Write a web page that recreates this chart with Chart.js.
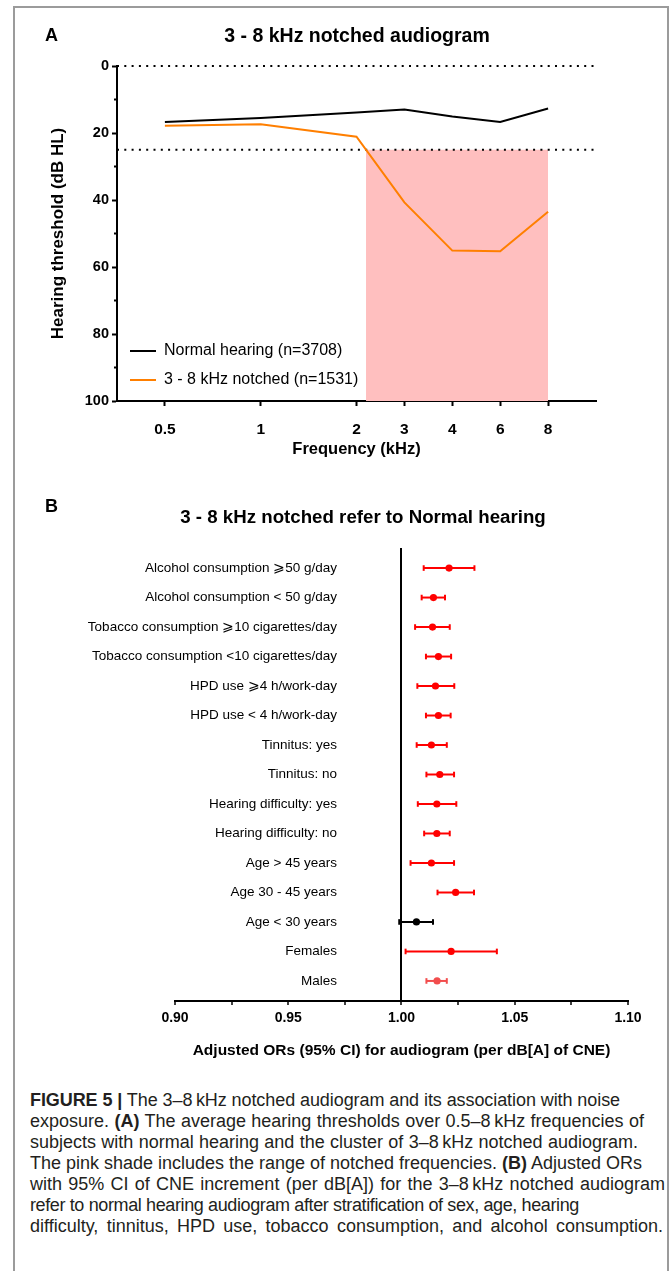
<!DOCTYPE html>
<html><head><meta charset="utf-8">
<script src="https://cdn.jsdelivr.net/npm/chart.js@4.4.1/dist/chart.umd.min.js"></script>
<style>
html,body{margin:0;padding:0;background:#fff;}
body{width:672px;height:1271px;position:relative;overflow:hidden;font-family:'Liberation Sans',Arial,sans-serif;color:#000;}
#frame{position:absolute;left:13px;top:6px;width:652px;height:1320px;border:2px solid #9b9b9b;}
canvas{position:absolute;left:0;}
.lbl{position:absolute;font-weight:bold;white-space:nowrap;}
#caption{position:absolute;left:30px;top:1090px;font-size:18px;line-height:21px;color:#231f20;white-space:nowrap;}
#caption b{font-weight:bold;}
</style></head>
<body>
<div id="frame"></div>
<canvas id="chartA" width="672" height="470" style="top:0"></canvas>
<canvas id="chartB" width="672" height="600" style="top:470px"></canvas>
<div class="lbl" style="left:45px;top:25px;font-size:18px;line-height:20px">A</div>
<div class="lbl" style="left:357px;top:23px;font-size:19.5px;line-height:24px;transform:translateX(-50%)">3 - 8 kHz notched audiogram</div>
<div class="lbl" style="left:45px;top:496px;font-size:18px;line-height:20px">B</div>
<div class="lbl" style="left:363px;top:505px;font-size:18.7px;line-height:24px;transform:translateX(-50%)">3 - 8 kHz notched refer to Normal hearing</div>
<div id="caption">
<div><b>FIGURE 5 |</b> The 3–8&thinsp;kHz notched audiogram and its association with noise</div>
<div>exposure. <b>(A)</b> The average hearing thresholds over 0.5–8&thinsp;kHz frequencies of</div>
<div>subjects with normal hearing and the cluster of 3–8&thinsp;kHz notched audiogram.</div>
<div>The pink shade includes the range of notched frequencies. <b>(B)</b> Adjusted ORs</div>
<div>with 95% CI of CNE increment (per dB[A]) for the 3–8&thinsp;kHz notched audiogram</div>
<div>refer to normal hearing audiogram after stratification of sex, age, hearing</div>
<div>difficulty, tinnitus, HPD use, tobacco consumption, and alcohol consumption.</div>
</div>
<script>
// ---------- Panel A data ----------
const freqLabels = ['0.5','1','2','3','4','6','8'];
const freqPositions = [0,2,4,5,6,7,8];
const normalHearing = [16.7,15.5,13.9,13.0,15.1,16.7,12.7];
const notchedHearing = [17.8,17.4,21.1,40.7,55.1,55.3,43.5];
const referenceLevels = [0,25];
const yMajorTicks = [0,20,40,60,80,100];
const yMinorTicks = [10,30,50,70,90];
const seriesNames = ['Normal hearing (n=3708)','3 - 8 kHz notched (n=1531)'];

// ---------- Panel B data ----------
const rowLabels = [
  'Alcohol consumption ⩾50 g/day',
  'Alcohol consumption < 50 g/day',
  'Tobacco consumption ⩾10 cigarettes/day',
  'Tobacco consumption <10 cigarettes/day',
  'HPD use ⩾4 h/work-day',
  'HPD use < 4 h/work-day',
  'Tinnitus: yes',
  'Tinnitus: no',
  'Hearing difficulty: yes',
  'Hearing difficulty: no',
  'Age > 45 years',
  'Age 30 - 45 years',
  'Age < 30 years',
  'Females',
  'Males'
];
const orValues = [1.0210,1.0141,1.0137,1.0163,1.0150,1.0163,1.0132,1.0169,1.0156,1.0156,1.0132,1.0239,1.0066,1.0219,1.0157];
const ciLower  = [1.0098,1.0089,1.0060,1.0108,1.0070,1.0108,1.0067,1.0110,1.0072,1.0100,1.0040,1.0159,0.9990,1.0018,1.0110];
const ciUpper  = [1.0322,1.0192,1.0213,1.0219,1.0233,1.0217,1.0200,1.0232,1.0242,1.0213,1.0232,1.0320,1.0139,1.0421,1.0200];
const orTickValues = [0.90,0.925,0.95,0.975,1.00,1.025,1.05,1.075,1.10];
const orTickLabels = ['0.90','','0.95','','1.00','','1.05','','1.10'];
const nullValue = 1.00;

// styles (kept apart from data)
const rowColors = rowLabels.map(l => l === 'Age < 30 years' ? '#000000' : (l === 'Males' ? '#f24d4d' : '#ff0000'));
const FAMILY = "'Liberation Sans', Arial, sans-serif";

Chart.defaults.font.family = FAMILY;
Chart.defaults.color = '#000';

// caption line fitting (layout only)
const captionLeft = 30;
const captionRightEdges = [620,644,638,642,665,579,663];
document.querySelectorAll('#caption > div').forEach((d,i)=>{
  d.innerHTML = '<span>' + d.innerHTML + '</span>';
  const sp = d.firstChild;
  const target = captionRightEdges[i] - captionLeft;
  let w = sp.getBoundingClientRect().width;
  const txt = sp.textContent;
  if (w > target) {
    sp.style.letterSpacing = ((target - w) / txt.length) + 'px';
    w = sp.getBoundingClientRect().width;
  }
  const spaces = (txt.match(/ /g) || []).length;
  if (w < target && spaces > 0) sp.style.wordSpacing = ((target - w) / spaces) + 'px';
});

// notch start: where notched curve crosses the 25 dB reference
function crossing(xs, ys, level){
  for(let i=0;i<ys.length-1;i++){
    if(ys[i] < level && ys[i+1] >= level){
      return xs[i] + (level-ys[i])/(ys[i+1]-ys[i])*(xs[i+1]-xs[i]);
    }
  }
  return xs[0];
}
const notchStart = crossing(freqPositions, notchedHearing, referenceLevels[1]);
const notchEnd = freqPositions[freqPositions.length-1];
const xMin = -1, xMax = 9;

// put the chartArea legend relative to the plot area
const legendInArea = {
  id:'legendInArea',
  afterLayout(chart){
    const lg = chart.legend;
    if(lg){ lg.top = chart.chartArea.top; lg.bottom = chart.chartArea.bottom; lg.height = lg.bottom - lg.top; }
  }
};

new Chart(document.getElementById('chartA'), {
  type: 'line',
  plugins:[legendInArea],
  data: {
    datasets: [
      {label: seriesNames[0], data: freqPositions.map((x,i)=>({x, y: normalHearing[i]})), borderColor:'#000', backgroundColor:'#000', borderWidth:2, pointRadius:0, clip:false},
      {label: seriesNames[1], data: freqPositions.map((x,i)=>({x, y: notchedHearing[i]})), borderColor:'#ff7f00', backgroundColor:'#ff7f00', borderWidth:2, pointRadius:0, clip:false},
      ...referenceLevels.map(v => ({label:'ref'+v, data:[{x:xMin,y:v},{x:xMax,y:v}], borderColor:'#000', borderWidth:2, borderDash:[2,5.3], pointRadius:0, clip:false})),
      {label:'shade', data:[{x:notchStart,y:referenceLevels[1]},{x:notchEnd,y:referenceLevels[1]}], borderWidth:0, borderColor:'rgba(0,0,0,0)', backgroundColor:'#ffbfbf', fill:{value:100}, pointRadius:0}
    ]
  },
  options: {
    responsive:false, animation:false, devicePixelRatio:1, events:[],
    layout:{padding:{left:0, top:66, right:76, bottom:0}},
    plugins:{
      tooltip:{enabled:false},
      legend:{
        position:'chartArea', align:'end',
        labels:{
          font:{size:16}, color:'#000', boxWidth:26, boxHeight:2, padding:13,
          generateLabels: chart => chart.data.datasets.slice(0,2).map((ds,i)=>({text: ds.label, fillStyle: ds.borderColor, strokeStyle: ds.borderColor, lineWidth:0, datasetIndex:i, hidden:false}))
        }
      }
    },
    scales:{
      x:{
        type:'linear', min:xMin, max:xMax,
        afterBuildTicks: s => { s.ticks = freqPositions.map(v=>({value:v})); },
        afterFit: s => { s.height = 69; },
        border:{display:true, color:'#000', width:2},
        grid:{drawOnChartArea:false, drawTicks:true, tickLength:5, tickWidth:2, tickColor:'#000'},
        ticks:{autoSkip:false, maxRotation:0, padding:14.7, color:'#000', font:{size:15.5, weight:'bold'},
          callback: v => { const k = freqPositions.indexOf(v); return k >= 0 ? freqLabels[k] : ''; }},
        title:{display:true, text:'Frequency (kHz)', color:'#000', font:{size:16.5, weight:'bold'}, padding:{top:0, bottom:10.4}}
      },
      y:{
        type:'linear', position:'left', reverse:true, min:0, max:100, weight:1,
        afterBuildTicks: s => { s.ticks = yMajorTicks.map(v=>({value:v})); },
        afterFit: s => { s.width = 117; },
        border:{display:true, color:'#000', width:2},
        grid:{drawOnChartArea:false, drawTicks:true, tickLength:5, tickWidth:2, tickColor:'#000'},
        ticks:{autoSkip:false, padding:3, color:'#000', font:{size:14.5, weight:'bold'}},
        title:{display:true, text:'Hearing threshold (dB HL)', color:'#000', font:{size:17, weight:'bold'}, padding:{top:47.8, bottom:0}}
      },
      yMinor:{
        type:'linear', position:'left', reverse:true, min:0, max:100, weight:0,
        afterBuildTicks: s => { s.ticks = yMinorTicks.map(v=>({value:v})); },
        afterFit: s => { s.width = 0; },
        border:{display:false},
        grid:{drawOnChartArea:false, drawTicks:true, tickLength:3, tickWidth:2, tickColor:'#000'},
        ticks:{callback:()=>'', padding:0}
      }
    }
  }
});

// ---------- Panel B ----------
const LABEL_SIZE = 13.5;
const mctx = document.createElement('canvas').getContext('2d');
mctx.font = 'normal ' + LABEL_SIZE + 'px ' + FAMILY;
const widestLabel = Math.max(...rowLabels.map(l => mctx.measureText(l).width));
const Y_AXIS_W = 175, LABEL_RIGHT = 337;

const ciDatasets = rowLabels.map((l,i)=>({
  type:'line', label:'ci'+i,
  data:[{x:ciLower[i], y:i},{x:ciUpper[i], y:i}],
  borderColor: rowColors[i], borderWidth:2,
  pointStyle:'line', rotation:90, pointRadius:2.8, pointBorderWidth:2, pointBorderColor: rowColors[i], pointBackgroundColor: rowColors[i],
  clip:false
}));

new Chart(document.getElementById('chartB'), {
  type:'scatter',
  data:{
    datasets:[
      {type:'scatter', label:'OR', data: rowLabels.map((l,i)=>({x: orValues[i], y: i})),
       pointRadius:3.6, pointBorderWidth:0, pointBackgroundColor: rowColors, backgroundColor: rowColors, clip:false},
      ...ciDatasets
    ]
  },
  options:{
    responsive:false, animation:false, devicePixelRatio:1, events:[],
    layout:{padding:{left:0, top:78, right:44, bottom:0}},
    plugins:{legend:{display:false}, tooltip:{enabled:false}},
    scales:{
      x:{
        type:'linear', min:orTickValues[0], max:orTickValues[orTickValues.length-1],
        afterBuildTicks: s => { s.ticks = orTickValues.map(v=>({value:v})); },
        afterFit: s => { s.height = 69; },
        border:{display:true, color:'#000', width:2},
        grid:{drawOnChartArea:true, color: c => (c.tick && Math.abs(c.tick.value - nullValue) < 1e-9) ? '#000' : 'rgba(0,0,0,0)', lineWidth:2,
              drawTicks:true, tickLength:4, tickWidth:1.5, tickColor:'#000'},
        ticks:{autoSkip:false, maxRotation:0, padding:4.6, color:'#000', font:{size:14, weight:'bold'},
          callback: v => { const k = orTickValues.findIndex(t => Math.abs(t-v) < 1e-9); return k >= 0 ? orTickLabels[k] : ''; }},
        title:{display:true, text:'Adjusted ORs (95% CI) for audiogram (per dB[A] of CNE)', color:'#000', font:{size:15.5, weight:'bold'}, padding:{top:0, bottom:10}}
      },
      y:{
        type:'linear', position:'left', reverse:true, min:-0.68, max:rowLabels.length-1+0.68,
        afterBuildTicks: s => { s.ticks = rowLabels.map((l,i)=>({value:i})); },
        afterFit: s => { s.width = Y_AXIS_W; },
        border:{display:false},
        grid:{display:false, drawTicks:false},
        ticks:{autoSkip:false, mirror:true, crossAlign:'far', padding: LABEL_RIGHT - Y_AXIS_W - widestLabel,
          color:'#000', font:{size:LABEL_SIZE},
          callback: v => rowLabels[v] ?? ''}
      }
    }
  }
});
</script>
</body></html>
